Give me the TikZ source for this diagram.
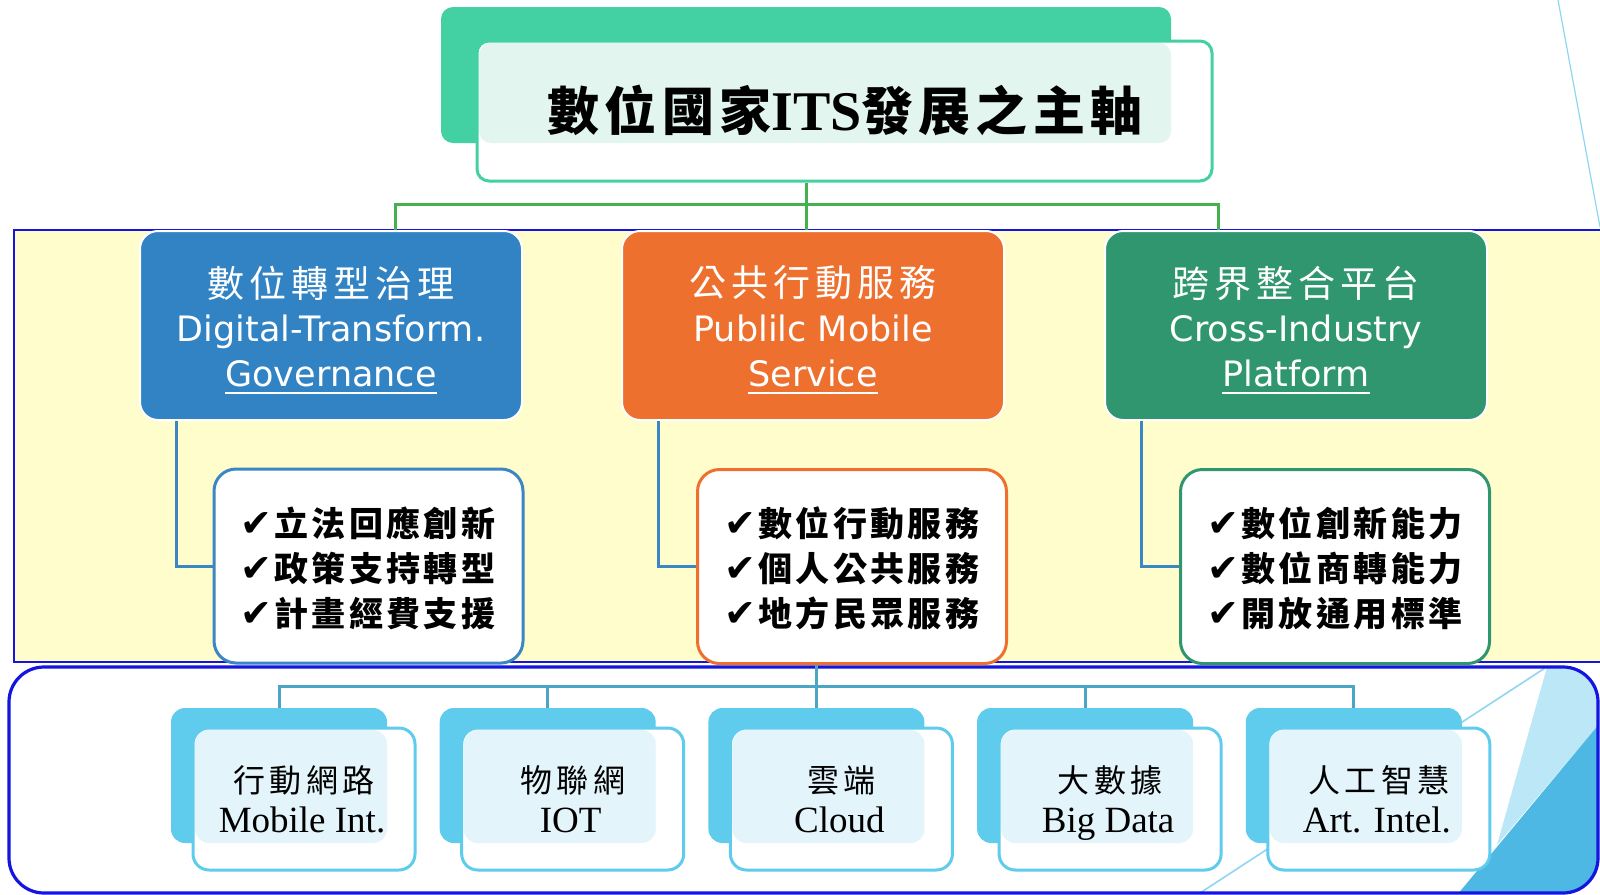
\documentclass[tikz,border=0pt]{standalone}
\usepackage{fontspec}
\newfontfamily\cjkT[LetterSpace=10]{Noto Sans CJK TC}
\newfontfamily\cjkH[LetterSpace=13]{Noto Sans CJK TC}
\newfontfamily\cjkS[LetterSpace=10]{Noto Sans CJK TC}
\newfontfamily\cjkB[LetterSpace=14]{Noto Sans CJK TC}
\newfontfamily\dvs{DejaVu Sans}
\newfontfamily\tms{Liberation Serif}
\newcommand\myul[1]{\vtop{\hbox{#1}\kern2.5pt\hrule height 1pt}}
\newcommand\ck{{\dvs\bfseries\fontsize{19}{19}\selectfont ✔}\kern1pt}
\newcommand\ttlcjk{\cjkT\bfseries\fontsize{26}{26}\selectfont}
\definecolor{ttlgreen}{HTML}{43D1A3}
\definecolor{ttlpat}{HTML}{E2F5EE}
\definecolor{conng}{HTML}{46B04E}
\definecolor{hblue}{HTML}{3183C4}
\definecolor{horange}{HTML}{EE702E}
\definecolor{hgreen}{HTML}{2F9670}
\definecolor{subline}{HTML}{3A87C4}
\definecolor{band}{HTML}{FFFDCC}
\definecolor{frameblue}{HTML}{1515E0}
\definecolor{tealc}{HTML}{4BA5C5}
\definecolor{lblue}{HTML}{5FCCEE}
\definecolor{bpat}{HTML}{E3F4FA}
\definecolor{decl}{HTML}{8FD6F2}
\definecolor{decd}{HTML}{4DB8E4}
\definecolor{decm}{HTML}{BCE7F7}
\tikzset{
  headbox/.style={rounded corners=9pt, minimum width=191pt, minimum height=94.5pt, draw=white, line width=1pt, inner sep=0pt},
  headcjk/.style={text=white, inner sep=0pt, font=\cjkH\fontsize{18.5}{18.5}\selectfont},
  headtxt/.style={text=white, align=center, inner sep=0pt, font=\dvs\fontsize{17.5}{22.5}\selectfont},
  subbox/.style={rounded corners=11pt, minimum width=154.5pt, minimum height=97pt, line width=1.5pt, fill=white, inner sep=0pt},
  subtxt/.style={align=left, inner sep=0pt, font=\cjkS\bfseries\fontsize{17}{22.5}\selectfont},
  gline/.style={conng, line width=1.5pt},
  sline/.style={subline, line width=1.5pt},
  tline/.style={tealc, line width=1.5pt},
  backtab/.style={fill=lblue, rounded corners=7pt, minimum width=108pt, minimum height=67.5pt, inner sep=0pt},
  fronttab/.style={fill=white, draw=lblue, line width=1.5pt, rounded corners=8pt, minimum width=111pt, minimum height=71pt, inner sep=0pt},
  botcjk/.style={anchor=base, inner sep=0pt, font=\cjkB\fontsize{16}{16}\selectfont},
  boten/.style={anchor=base, inner sep=0pt, font=\tms\fontsize{18.5}{18.5}\selectfont},
}
\begin{document}
\begin{tikzpicture}[x=0.5pt,y=-0.5pt]
\useasboundingbox (0,0) rectangle (1600,894);
\fill[white] (0,0) rectangle (1600,894);
% decorative top-right line
\draw[decl, line width=0.6pt] (1558,0) -- (1600,227);
% yellow band
\draw[frameblue, line width=0.8pt, fill=band] (14,230) rectangle (1603,662);
% bottom frame decorations
\begin{scope}
\clip[rounded corners=17.5pt] (9,667) rectangle (1598,893);
\fill[decm] (1547,667) -- (1600,667) -- (1600,723) -- (1497,845) -- cycle;
\fill[decd] (1600,723) -- (1600,895) -- (1457,895) -- cycle;
\draw[decl, line width=0.8pt] (1200,893) -- (1545,668);
\end{scope}
\draw[frameblue, line width=1.6pt, rounded corners=17.5pt] (9,667) rectangle (1598,893);

% title
\node[fill=ttlgreen, rounded corners=6pt, minimum width=365pt, minimum height=68pt, inner sep=0pt] (titleback) at (806,75) {};
\node[fill=white, draw=ttlgreen, line width=1.5pt, rounded corners=6pt, minimum width=367.5pt, minimum height=70pt, inner sep=0pt] (title) at (844.5,111) {};
\fill[ttlpat, rounded corners=6pt] (479,43) rectangle (1171,143);
\node[inner sep=0pt] (titletxt) at (845,110) {{\ttlcjk 數位國家}{\tms\bfseries\fontsize{28}{28}\selectfont ITS}{\ttlcjk 發展之主軸}};

% heading boxes
\node[headbox, fill=hblue] (h1) at (331,325.5) {};
\node[headbox, fill=horange] (h2) at (813,325.5) {};
\node[headbox, fill=hgreen] (h3) at (1296,325.5) {};

% green connectors
\coordinate (bl) at (395,204);
\coordinate (br) at (1218,204);
\draw[gline] (bl |- h1.north) -- (bl) -- (br) -- (br |- h3.north);
\draw[gline] (titleback.south |- title.south) -- (titleback.south |- h2.north);

\node[headcjk] (h1a) at (331,283) {數位轉型治理};
\node[headtxt, anchor=north] (h1b) at (331,315) {Digital-Transform.\\\myul{Governance}};
\node[headcjk] (h2a) at (813,283) {公共行動服務};
\node[headtxt, anchor=north] (h2b) at (813,315) {Publilc Mobile\\\myul{Service}};
\node[headcjk] (h3a) at (1296,283) {跨界整合平台};
\node[headtxt, anchor=north] (h3b) at (1296,315) {Cross-Industry\\\myul{Platform}};

% sub boxes
\node[subbox, draw=subline] (s1) at (368.5,566) {};
\node[subbox, draw=horange] (s2) at (852,566.5) {};
\node[subbox, draw=hgreen] (s3) at (1335,566.5) {};
\draw[sline] ([xshift=18.5pt]h1.south west) |- (s1.west);
\draw[sline] ([xshift=18.5pt]h2.south west) |- (s2.west);
\draw[sline] ([xshift=18.5pt]h3.south west) |- (s3.west);
\node[subtxt] (s1t) at (368,568) {\ck 立法回應創新\\\ck 政策支持轉型\\\ck 計畫經費支援};
\node[subtxt] (s2t) at (852,568) {\ck 數位行動服務\\\ck 個人公共服務\\\ck 地方民眾服務};
\node[subtxt] (s3t) at (1335,568) {\ck 數位創新能力\\\ck 數位商轉能力\\\ck 開放通用標準};

% bottom boxes
\foreach \i/\zh/\en in {0/行動網路/Mobile Int.,1/物聯網/IOT,2/雲端/Cloud,3/大數據/Big Data,4/人工智慧/Art. Intel.}{
  \pgfmathsetmacro{\L}{171+268.7*\i}
  \node[backtab] (bk\i) at (\L+108,775.5) {};
  \node[fronttab] (fr\i) at (\L+133,799) {};
  \fill[bpat, rounded corners=7pt] (\L+24,730) rectangle (\L+216,843);
  \node[botcjk] (bt\i) at (\L+133,792) {\zh};
  \node[boten] (be\i) at (\L+131,832) {\en};
}
\coordinate (tb) at (817,686);
\draw[tline] (bk0.north) |- (tb) -| (bk4.north);
\draw[tline] (bk1.north) -- (bk1.north |- tb);
\draw[tline] (bk3.north) -- (bk3.north |- tb);
\draw[tline] (bk2.north |- s2.south) -- (bk2.north);
\end{tikzpicture}
\end{document}
